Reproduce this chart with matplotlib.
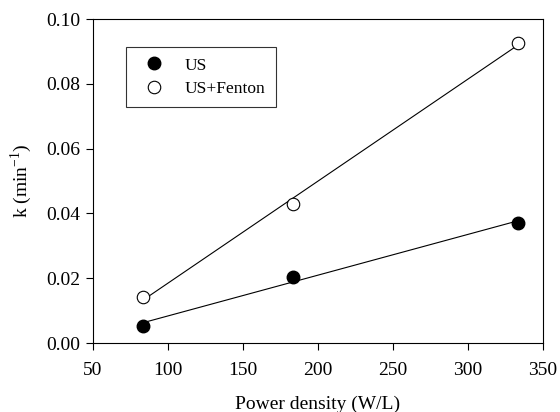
import numpy as np
import matplotlib
matplotlib.use("Agg")
import matplotlib.pyplot as plt

plt.rcParams["font.family"] = ["Liberation Serif", "DejaVu Serif"]
plt.rcParams["mathtext.fontset"] = "custom"
plt.rcParams["mathtext.rm"] = "Liberation Serif"

power = [83, 183, 333]
k_us = [0.0052, 0.0205, 0.0370]
k_fenton = [0.0141, 0.0430, 0.0925]

fig = plt.figure(figsize=(5.6, 4.12), dpi=100)
ax = fig.add_axes([93 / 560, 1 - 343 / 412, 450 / 560, 324 / 412])

# linear regression lines through each series
xs = np.array([power[0], power[-1]])
for k in (k_us, k_fenton):
    b = np.polyfit(power, k, 1)
    ax.plot(xs, np.polyval(b, xs), color="black", lw=0.8, zorder=1)

ax.plot(power, k_us, "o", ms=9, mfc="black", mec="black", label="US", zorder=2)
ax.plot(power, k_fenton, "o", ms=9, mfc="white", mec="black", mew=0.8,
        label="US+Fenton", zorder=2)

ax.set_xlim(50, 350)
ax.set_ylim(0, 0.10)
ax.set_xticks(np.arange(50, 351, 50))
ax.set_yticks(np.arange(0, 0.101, 0.02))
ax.set_yticklabels([f"{v:.2f}" for v in np.arange(0, 0.101, 0.02)])
ax.tick_params(direction="out", length=5, width=0.8, labelsize=14, top=False, right=False)
ax.tick_params(axis="x", pad=9)
ax.tick_params(axis="y", pad=4)
for s in ax.spines.values():
    s.set_linewidth(0.8)

ax.set_xlabel("Power density (W/L)", fontsize=14, labelpad=12)
ax.set_ylabel(r"k (min$^{\mathrm{-1}}$)", fontsize=14)
ax.yaxis.set_label_coords(-0.130, 0.5)

leg = ax.legend(loc="upper left", bbox_to_anchor=(33 / 450, 1 - 28 / 324), fontsize=12.5,
                frameon=True, fancybox=False, edgecolor="black", borderpad=0.6,
                labelspacing=0.4, handletextpad=0.8, handlelength=2.0, borderaxespad=0)
leg.get_frame().set_linewidth(0.8)

fig.savefig("out.png", dpi=100)
